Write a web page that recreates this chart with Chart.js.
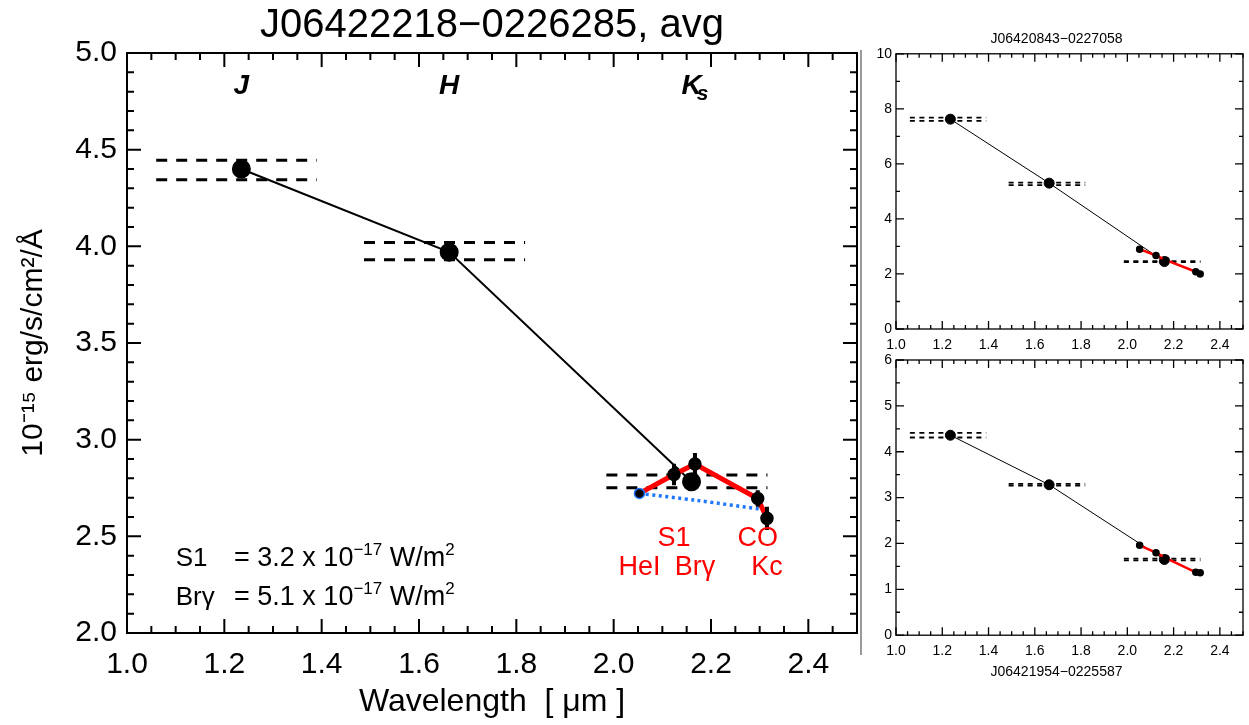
<!DOCTYPE html>
<html>
<head>
<meta charset="utf-8">
<title>J06422218-0226285, avg</title>
<script src="https://cdn.jsdelivr.net/npm/chart.js@4.4.1/dist/chart.umd.min.js"></script>
<style>
  html, body { margin: 0; padding: 0; background: #fff; }
  body { position: relative; width: 1249px; height: 725px; overflow: hidden; }
  .panel { position: absolute; }
  #panel-main { left: 0; top: 0; width: 870px; height: 725px; }
  #panel-top { left: 870px; top: 0; width: 379px; height: 352px; }
  #panel-bot { left: 870px; top: 352px; width: 379px; height: 373px; }
  #sep { position: absolute; left: 860px; top: 50px; width: 2px; height: 605px; background: #9a9a9a; }
</style>
</head>
<body>
<div id="sep"></div>
<div class="panel" id="panel-main"><canvas id="mainChart"></canvas></div>
<div class="panel" id="panel-top"><canvas id="topChart"></canvas></div>
<div class="panel" id="panel-bot"><canvas id="botChart"></canvas></div>
<script>
const FONT = '"Liberation Sans", Arial, Helvetica, sans-serif';
Chart.defaults.font.family = FONT;
Chart.defaults.color = '#000';
Chart.defaults.animation = false;

// Broad bands (J, H, Ks): centre and filter range in micron
const bandNames = ['J', 'H', 'Ks'];
const bandWave = [1.235, 1.662, 2.160];
const bandFrom = [1.06, 1.487, 1.985];
const bandTo = [1.39, 1.818, 2.316];

// Narrow-band filters
const lineNames = ['HeI', 'S1', 'Brγ', 'CO', 'Kc'];
const lineWave = [2.053, 2.124, 2.167, 2.296, 2.315];

// J06422218-0226285 (avg)
const mainBandFlux = [4.40, 3.97, 2.782];
const mainBandHigh = [4.445, 4.02, 2.817];
const mainBandLow = [4.345, 3.93, 2.751];
const mainLineFlux = [2.722, 2.82, 2.874, 2.696, 2.593];
const mainLineErr = [0.01, 0.056, 0.057, 0.043, 0.06];
const contWave = [2.053, 2.17, 2.31];
const contFlux = [2.722, 2.686, 2.638];

// J06420843-0227058
const topBandFlux = [7.625, 5.30, 2.45];
const topBandHigh = [7.68, 5.32, 2.47];
const topBandLow = [7.56, 5.23, 2.43];
const topLineFlux = [2.90, 2.67, 2.50, 2.08, 2.00];
const topLineErr = [0.10, 0.04, 0.04, 0.04, 0.04];

// J06421954-0225587
const botBandFlux = [4.36, 3.28, 1.65];
const botBandHigh = [4.41, 3.30, 1.67];
const botBandLow = [4.31, 3.26, 1.63];
const botLineFlux = [1.96, 1.80, 1.68, 1.37, 1.36];
const botLineErr = [0.03, 0.03, 0.03, 0.03, 0.03];

// Line fluxes written in the main panel
const fluxNotes = [
  { name: 'S1', value: '3.2', exp: '−17' },
  { name: 'Brγ', value: '5.1', exp: '−17' }
];

// Where the annotations sit (data units)
const bandLabelLevel = 4.83;
const lineLabelLevel = [2.34, 2.49, 2.34, 2.49, 2.34];
const fluxNoteWave = 1.1;
const fluxEqWave = 1.22;
const fluxNoteLevel = [2.346, 2.144];

function makeDatasets(bandFlux, bandHigh, bandLow, lineFlux, st) {
  const sets = [];
  sets.push({
    data: lineWave.map((w, i) => ({ x: w, y: lineFlux[i] })),
    borderColor: '#ff0000', borderWidth: st.redWidth,
    pointRadius: st.lineR, pointBackgroundColor: '#000',
    pointBorderColor: st.lineEdge, pointBorderWidth: 1.5,
    order: 1
  });
  sets.push({
    data: bandWave.map((w, i) => ({ x: w, y: bandFlux[i] })),
    borderColor: '#000', borderWidth: st.blackWidth,
    pointRadius: st.bandR, pointBackgroundColor: '#000', pointBorderColor: '#000',
    order: 2
  });
  bandNames.forEach((b, i) => {
    [bandHigh[i], bandLow[i]].forEach(v => sets.push({
      data: [{ x: bandFrom[i], y: v }, { x: bandTo[i], y: v }],
      borderColor: '#000', borderWidth: st.dashWidth, borderDash: st.dash,
      pointRadius: 0, order: 4
    }));
  });
  return sets;
}

function makeScales(o) {
  return {
    x: {
      type: 'linear', min: 1.0, max: 2.5,
      grid: { display: false, drawTicks: false }, border: { display: false },
      ticks: {
        stepSize: 0.2, includeBounds: false, padding: o.xPad, maxRotation: 0, autoSkip: false,
        font: { size: o.tick }, color: '#000', callback: v => v.toFixed(1)
      },
      title: o.xTitle || { display: false },
      afterFit: s => { s.height = o.xHeight; s.paddingLeft = 0; s.paddingRight = 0; }
    },
    y: {
      min: o.yMin, max: o.yMax,
      grid: { display: false, drawTicks: false }, border: { display: false },
      ticks: {
        stepSize: o.yStep, padding: o.yPad, autoSkip: false,
        font: { size: o.tick }, color: '#000', callback: o.yFmt
      },
      title: o.yTitle || { display: false },
      afterFit: s => { s.width = o.yWidth; s.paddingTop = 0; s.paddingBottom = 0; }
    }
  };
}

// Box with inward ticks on all four sides
function framePlugin(yMajor, yMinor, majorLen, minorLen, width) {
  return {
    id: 'frameTicks',
    afterDraw(chart) {
      const { ctx, chartArea: a, scales: { x, y } } = chart;
      ctx.save();
      ctx.strokeStyle = '#000';
      ctx.lineWidth = width;
      ctx.strokeRect(a.left, a.top, a.right - a.left, a.bottom - a.top);
      ctx.beginPath();
      const isMajor = (v, m) => Math.abs(v / m - Math.round(v / m)) < 1e-6;
      for (let v = x.min; v <= x.max + 1e-9; v += 0.05) {
        const p = x.getPixelForValue(v);
        const len = isMajor(v, 0.2) ? majorLen : minorLen;
        ctx.moveTo(p, a.bottom); ctx.lineTo(p, a.bottom - len);
        ctx.moveTo(p, a.top); ctx.lineTo(p, a.top + len);
      }
      for (let v = y.min; v <= y.max + 1e-9; v += yMinor) {
        const p = y.getPixelForValue(v);
        const len = isMajor(v, yMajor) ? majorLen : minorLen;
        ctx.moveTo(a.left, p); ctx.lineTo(a.left + len, p);
        ctx.moveTo(a.right, p); ctx.lineTo(a.right - len, p);
      }
      ctx.stroke();
      ctx.restore();
    }
  };
}

function errorBarPlugin(flux, err, width) {
  return {
    id: 'errorBars',
    afterDatasetsDraw(chart) {
      const { ctx, scales: { x, y } } = chart;
      ctx.save();
      ctx.strokeStyle = '#000';
      ctx.lineWidth = width;
      ctx.beginPath();
      lineWave.forEach((w, i) => {
        const px = x.getPixelForValue(w);
        ctx.moveTo(px, y.getPixelForValue(flux[i] - err[i]));
        ctx.lineTo(px, y.getPixelForValue(flux[i] + err[i]));
      });
      ctx.stroke();
      ctx.restore();
    }
  };
}

function drawRich(ctx, x, y, parts, size) {
  parts.forEach(p => {
    const s = p.sup ? Math.round(size * 0.64) : size;
    ctx.font = `${s}px ${FONT}`;
    ctx.fillText(p.t, x, p.sup ? y - size * 0.42 : y);
    x += ctx.measureText(p.t).width;
  });
}

// Band names, filter names and line fluxes of the main panel
const mainNotes = {
  id: 'mainNotes',
  afterDatasetsDraw(chart) {
    const { ctx, scales: { x, y } } = chart;
    ctx.save();
    ctx.fillStyle = '#000';
    ctx.textBaseline = 'middle';
    bandNames.forEach((b, i) => {
      const px = x.getPixelForValue(bandWave[i]);
      const py = y.getPixelForValue(bandLabelLevel);
      ctx.font = `italic bold 28px ${FONT}`;
      ctx.textAlign = 'center';
      ctx.fillText(b[0], px, py);
      if (b.length > 1) {
        const w = ctx.measureText(b[0]).width;
        ctx.font = `italic bold 21px ${FONT}`;
        ctx.textAlign = 'left';
        ctx.fillText(b.slice(1), px + w / 2 - 5, py + 8);
      }
    });

    ctx.fillStyle = '#ff0000';
    ctx.font = `27px ${FONT}`;
    ctx.textAlign = 'center';
    lineNames.forEach((n, i) => {
      ctx.fillText(n, x.getPixelForValue(lineWave[i]), y.getPixelForValue(lineLabelLevel[i]));
    });

    ctx.fillStyle = '#000';
    ctx.textAlign = 'left';
    ctx.textBaseline = 'alphabetic';
    fluxNotes.forEach((f, i) => {
      const py = y.getPixelForValue(fluxNoteLevel[i]);
      ctx.font = `26px ${FONT}`;
      ctx.fillText(f.name, x.getPixelForValue(fluxNoteWave), py);
      drawRich(ctx, x.getPixelForValue(fluxEqWave), py, [
        { t: `= ${f.value} x 10` }, { t: f.exp, sup: true }, { t: ' W/m' }, { t: '2', sup: true }
      ], 27);
    });
    ctx.restore();
  }
};

// Main panel
const mainSets = makeDatasets(mainBandFlux, mainBandHigh, mainBandLow, mainLineFlux, {
  redWidth: 5, blackWidth: 2, dashWidth: 3, dash: [11, 9],
  lineR: [5, 6, 6, 6, 6], bandR: 8.5,
  lineEdge: ['#1e78ff', '#000', '#000', '#000', '#000']
});
mainSets.push({
  data: contWave.map((w, i) => ({ x: w, y: contFlux[i] })),
  borderColor: '#1e78ff', borderWidth: 3.5, borderDash: [3, 3.5],
  pointRadius: 0, tension: 0.3, order: 3
});

new Chart(document.getElementById('mainChart'), {
  type: 'line',
  data: { datasets: mainSets },
  options: {
    responsive: true,
    maintainAspectRatio: false,
    layout: { padding: { left: 0, right: 13, top: 0, bottom: 0 } },
    plugins: {
      legend: { display: false },
      tooltip: { enabled: false },
      title: {
        display: true, fullSize: false,
        text: 'J06422218−0226285, avg',
        color: '#000', font: { size: 40, weight: 'normal' },
        padding: { top: 2, bottom: 3 }
      }
    },
    scales: makeScales({
      yMin: 2, yMax: 5, yStep: 0.5, yFmt: v => v.toFixed(1),
      tick: 30, xPad: 14, yPad: 10, xHeight: 92, yWidth: 127,
      xTitle: { display: true, text: 'Wavelength  [ μm ]', color: '#000', font: { size: 32 }, padding: { top: 0, bottom: 4 } },
      yTitle: { display: true, text: '10⁻¹⁵ erg/s/cm²/Å', color: '#000', font: { size: 30 }, padding: { top: 16, bottom: 0 } }
    })
  },
  plugins: [framePlugin(0.5, 0.1, 14, 7, 2), errorBarPlugin(mainLineFlux, mainLineErr, 4), mainNotes]
});

// Small panels
const smallStyle = {
  redWidth: 2.5, blackWidth: 1, dashWidth: 1.8, dash: [5, 4.5],
  lineR: 3, bandR: 5, lineEdge: '#000'
};

new Chart(document.getElementById('topChart'), {
  type: 'line',
  data: { datasets: makeDatasets(topBandFlux, topBandHigh, topBandLow, topLineFlux, smallStyle) },
  options: {
    responsive: true,
    maintainAspectRatio: false,
    layout: { padding: { left: 0, right: 6, top: 0, bottom: 0 } },
    plugins: {
      legend: { display: false },
      tooltip: { enabled: false },
      title: {
        display: true, text: 'J06420843−0227058',
        color: '#000', font: { size: 14, weight: 'normal' },
        padding: { top: 31, bottom: 6 }
      }
    },
    scales: makeScales({
      yMin: 0, yMax: 10, yStep: 2, yFmt: v => String(v),
      tick: 14, xPad: 7.5, yPad: 4, xHeight: 23, yWidth: 26
    })
  },
  plugins: [framePlugin(2, 1, 8, 4, 1.3), errorBarPlugin(topLineFlux, topLineErr, 2)]
});

new Chart(document.getElementById('botChart'), {
  type: 'line',
  data: { datasets: makeDatasets(botBandFlux, botBandHigh, botBandLow, botLineFlux, smallStyle) },
  options: {
    responsive: true,
    maintainAspectRatio: false,
    layout: { padding: { left: 0, right: 6, top: 8, bottom: 0 } },
    plugins: {
      legend: { display: false },
      tooltip: { enabled: false },
      title: {
        display: true, position: 'bottom', text: 'J06421954−0225587',
        color: '#000', font: { size: 14, weight: 'normal' },
        padding: { top: 1, bottom: 44 }
      }
    },
    scales: makeScales({
      yMin: 0, yMax: 6, yStep: 1, yFmt: v => String(v),
      tick: 14, xPad: 7.5, yPad: 4, xHeight: 28, yWidth: 26
    })
  },
  plugins: [framePlugin(1, 0.5, 8, 4, 1.3), errorBarPlugin(botLineFlux, botLineErr, 2)]
});
</script>
</body>
</html>
